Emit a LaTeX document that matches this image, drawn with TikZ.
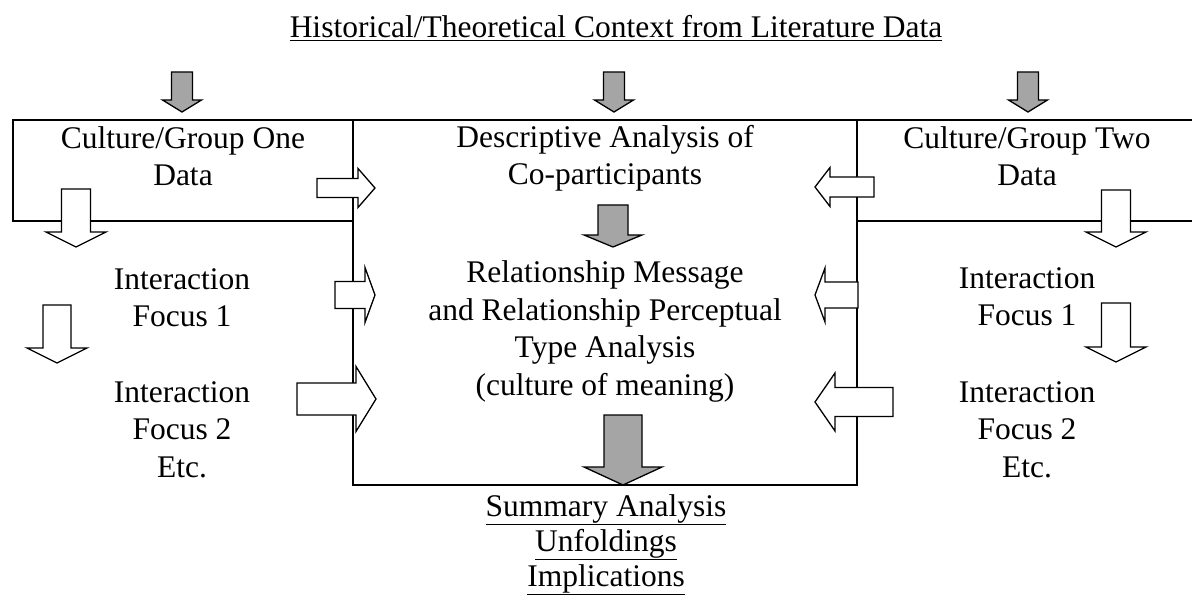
\documentclass[tikz,border=0pt]{standalone}
\usepackage{fontspec}
\setmainfont{Liberation Serif}
\usepackage{tikz}
\definecolor{Stipple}{RGB}{165,165,165}
\tikzstyle{txt} = [align=center, inner sep=0pt, anchor=base, font=\fontsize{31.5bp}{37.5bp}\selectfont]
\tikzstyle{boxline} = [draw=black, line width=2.5bp]
\tikzstyle{hollow} = [draw=black, fill=white, line width=1.3bp]
\tikzstyle{shaded} = [draw=black, fill=Stipple, line width=1.3bp]
% block arrow: style, tail x, tail y, angle, length, half shaft, half head, head length
\newcommand{\blockarrow}[8]{%
  \draw[#1, shift={(#2,#3)}, rotate=#4]
    (0,-#6) -- ({#5-#8},-#6) -- ({#5-#8},-#7) -- (#5,0)
    -- ({#5-#8},#7) -- ({#5-#8},#6) -- (0,#6) -- cycle;}

\begin{document}
\begin{tikzpicture}[x=1bp, y=-1bp]
    \useasboundingbox (0,0) rectangle (1192,595);

    % frames
    \draw[boxline] (13,120) rectangle (353,221);
    \draw[boxline] (353,120) rectangle (857,485);
    \draw[boxline] (1200,120) -- (857,120) -- (857,221) -- (1200,221);

    % texts (placed at the baseline of their last line)
    \node (context)  [txt] at (616,38)  {\underline{Historical/Theoretical Context from Literature Data}};
    \node (cultOne)  [txt] at (183,186) {Culture/Group One\\Data};
    \node (descr)    [txt] at (605,185) {Descriptive Analysis of\\Co-participants};
    \node (cultTwo)  [txt] at (1027,186) {Culture/Group Two\\Data};
    \node (relation) [txt] at (605,395) {Relationship Message\\and Relationship Perceptual\\Type Analysis\\(culture of meaning)};
    \node (oneFocA)  [txt] at (182,327) {Interaction\\Focus 1};
    \node (oneFocB)  [txt] at (182,477) {Interaction\\Focus 2\\Etc.};
    \node (twoFocA)  [txt] at (1027,326) {Interaction\\Focus 1};
    \node (twoFocB)  [txt] at (1027,477) {Interaction\\Focus 2\\Etc.};
    \node (summary)  [txt, font=\fontsize{31.5bp}{35bp}\selectfont] at (606,586)
                     {\underline{Summary Analysis}\\\underline{Unfoldings}\\\underline{Implications}};

    % literature into each column
    \blockarrow{shaded}{182}{72}{-90}{40}{10.5}{19.5}{12}
    \blockarrow{shaded}{614}{72}{-90}{40}{10.5}{19.5}{12}
    \blockarrow{shaded}{1028}{72}{-90}{40}{10.5}{19.5}{12}
    \blockarrow{shaded}{613}{205}{-90}{42}{15}{29}{12}
    \blockarrow{shaded}{623}{415}{-90}{70}{19}{39}{18}

    % group one side
    \blockarrow{hollow}{317}{188}{0}{58}{9.5}{19.5}{17}
    \blockarrow{hollow}{335}{295}{0}{40}{13.5}{27.5}{10}
    \blockarrow{hollow}{297}{399}{0}{79}{16}{32.5}{20}
    \blockarrow{hollow}{76}{189}{-90}{58}{14.5}{30}{15}
    \blockarrow{hollow}{57}{305}{-90}{58}{14}{30}{15}

    % group two side
    \blockarrow{hollow}{874}{187}{180}{59}{10}{19.5}{15}
    \blockarrow{hollow}{858}{295}{180}{43}{13}{27}{10}
    \blockarrow{hollow}{893}{402}{180}{78}{14.5}{29}{20}
    \blockarrow{hollow}{1116}{190}{-90}{57}{14.5}{30}{15}
    \blockarrow{hollow}{1116}{303}{-90}{59}{14.5}{30}{15}
\end{tikzpicture}
\end{document}
